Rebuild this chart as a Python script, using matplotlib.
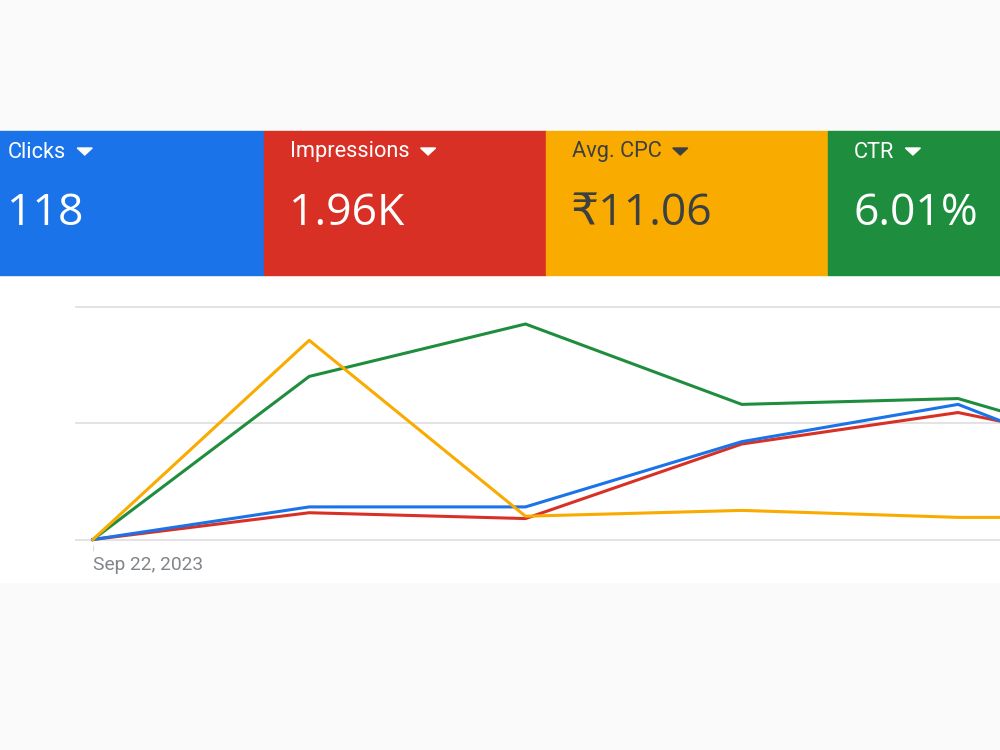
import numpy as np
import matplotlib
matplotlib.use('Agg')
from matplotlib import pyplot as plt
from matplotlib.patches import Rectangle, Polygon

# scorecards
metrics = ['Clicks', 'Impressions', 'Avg. CPC', 'CTR']
totals = ['118', '1.96K', '₹11.06', '6.01%']
card_colors = ['#1a73e8', '#d93025', '#f9ab00', '#1e8e3e']
text_colors = ['white', 'white', '#3c4043', 'white']

# daily series (each scaled to the chart's gridline units)
days = ['Sep 22, 2023', 'Sep 23, 2023', 'Sep 24, 2023',
        'Sep 25, 2023', 'Sep 26, 2023', 'Sep 27, 2023']
clicks = [0, 0.28, 0.28, 0.84, 1.16, 0.44]
impressions = [0, 0.23, 0.18, 0.82, 1.09, 0.71]
avg_cpc = [0, 1.71, 0.20, 0.25, 0.19, 0.19]
ctr = [0, 1.40, 1.85, 1.16, 1.21, 0.67]

fig = plt.figure(figsize=(10, 7.5), dpi=100, facecolor='#fafafa')

# overlay in pixel coordinates for the cards and the white panel
bg = fig.add_axes([0, 0, 1, 1])
bg.set_xlim(0, 1000)
bg.set_ylim(750, 0)
bg.axis('off')
bg.add_patch(Rectangle((0, 275), 1000, 307, color='white', zorder=0))

card_w = 282
card_x0 = -18
lab_font = ['Roboto', 'DejaVu Sans']
num_font = ['Open Sans', 'DejaVu Sans']
fig.canvas.draw()
renderer = fig.canvas.get_renderer()
for i, name in enumerate(metrics):
    left = card_x0 + i * card_w
    bg.add_patch(Rectangle((left, 131), card_w, 144, color=card_colors[i], zorder=1))
    t = bg.text(left + 26, 157.5, name, color=text_colors[i], fontsize=15.7,
                family=lab_font, va='baseline', ha='left', zorder=2)
    bb = t.get_window_extent(renderer)
    tx = bb.x1 + 11
    bg.add_patch(Polygon([[tx, 148], [tx + 15, 148], [tx + 7.5, 155]],
                         closed=True, color=text_colors[i], zorder=2))
    bg.text(left + 25, 225, totals[i], color=text_colors[i], fontsize=32,
            family=num_font, va='baseline', ha='left', zorder=2)

# line chart
ax = fig.add_axes([0.075, (750 - 545) / 750, 0.925, 245 / 750])
ax.set_facecolor('none')
x = np.arange(len(days))
ax.plot(x, impressions, color='#d93025', lw=2.2, zorder=3)
ax.plot(x, clicks, color='#1a73e8', lw=2.2, zorder=4)
ax.plot(x, ctr, color='#1e8e3e', lw=2.2, zorder=3)
ax.plot(x, avg_cpc, color='#f9ab00', lw=2.2, zorder=5)

ax.set_xlim(-0.083, 4.194)
ax.set_ylim(-0.047, 2.056)
ax.set_yticks([0, 1, 2])
ax.set_yticklabels([])
ax.tick_params(axis='y', length=0)
ax.grid(axis='y', color='#e0e0e0', lw=1.3)
ax.set_axisbelow(True)
for s in ax.spines.values():
    s.set_visible(False)
ax.set_xticks([0])
ax.set_xticklabels([days[0]], family=lab_font, fontsize=13.8, color='#80868b', ha='left')
ax.tick_params(axis='x', length=4.3, color='#dadce0', pad=3.5)

fig.savefig('out.png', dpi=100, facecolor=fig.get_facecolor())
